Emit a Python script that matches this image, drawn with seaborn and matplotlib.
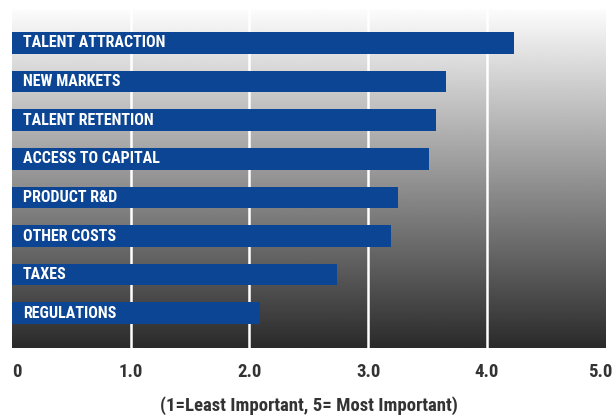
import numpy as np
import pandas as pd
import matplotlib
matplotlib.use("Agg")
import matplotlib.pyplot as plt
from matplotlib import font_manager
from matplotlib.transforms import ScaledTranslation
import seaborn as sns

# Average importance rating per driver
categories = ["TALENT ATTRACTION", "NEW MARKETS", "TALENT RETENTION", "ACCESS TO CAPITAL",
              "PRODUCT R&D", "OTHER COSTS", "TAXES", "REGULATIONS"]
scores = [4.23, 3.66, 3.57, 3.51, 3.25, 3.19, 2.74, 2.09]
tick_values = [0, 1, 2, 3, 4, 5]
tick_labels = ["0", "1.0", "2.0", "3.0", "4.0", "5.0"]
axis_note = "(1=Least Important, 5= Most Important)"

sns.set_theme(style="white")

# prefer a condensed face where one is installed
installed = {f.name for f in font_manager.fontManager.ttflist}
preferred = ["Roboto Condensed", "Liberation Sans Narrow", "DejaVu Sans Condensed", "Roboto"]
chosen = [f for f in preferred if f in installed] or ["DejaVu Sans"]
label_font = chosen[:1] + ["DejaVu Sans"]
plt.rcParams["font.family"] = label_font

df = pd.DataFrame({"driver": categories, "score": scores})

fig = plt.figure(figsize=(6.13, 4.15), dpi=100)
W, H = 613, 415
ax = fig.add_axes([12 / W, (H - 348) / H, (605.5 - 12) / W, (348 - 9) / H])

# vertical grey gradient behind the bars
ylim = (7.9, -0.88)
grad = np.linspace(252, 43, 256)[:, None] / 255.0
ax.imshow(grad, cmap="gray", vmin=0, vmax=1, aspect="auto",
          extent=[0, 5, ylim[0], ylim[1]], origin="upper", zorder=0)

for v in tick_values[1:-1]:
    ax.axvline(v, color="white", lw=1.8, zorder=1)

sns.barplot(data=df, x="score", y="driver", orient="h", color="#0b4594",
            saturation=1, width=0.56, ax=ax, zorder=2, edgecolor="none")

for i, name in enumerate(categories):
    ax.text(0.09, i, name, color="white", fontsize=11.5, fontweight="bold",
            va="center", ha="left", zorder=3, family=label_font)

ax.set_xlim(0, 5)
ax.set_ylim(*ylim)
ax.set_yticks([])
ax.set_ylabel("")
ax.set_xticks(tick_values)
ax.set_xticklabels(tick_labels, fontsize=13.5, fontweight="bold", color="#333333")
ax.tick_params(axis="x", length=0, pad=10.5)
xt = ax.get_xticklabels()
xt[0].set_ha("left")
xt[-1].set_ha("right")
xt[-1].set_transform(xt[-1].get_transform() + ScaledTranslation(7 / 100, 0, fig.dpi_scale_trans))
ax.set_xlabel(axis_note, fontsize=13.5, fontweight="bold", color="#333333", labelpad=11)
for s in ax.spines.values():
    s.set_visible(False)

fig.savefig("out.png", dpi=100)
